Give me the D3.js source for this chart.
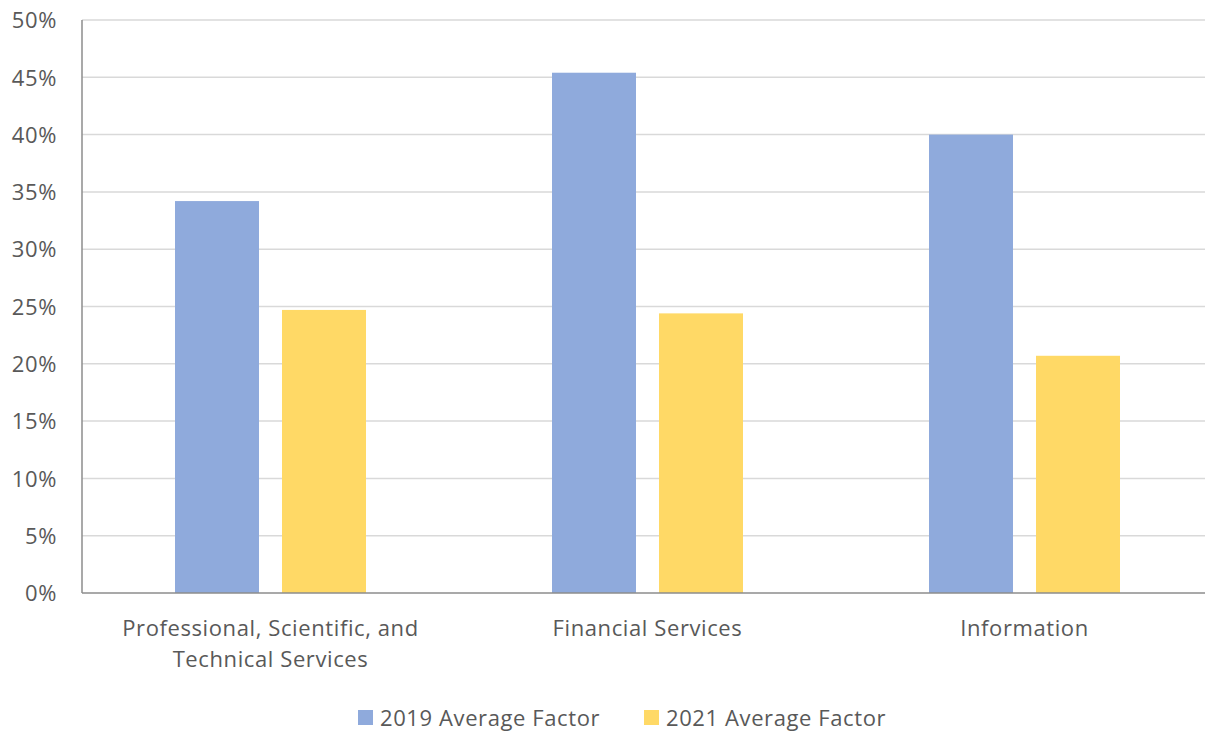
<!DOCTYPE html>
<html>
<head>
<meta charset="utf-8">
<script src="https://cdn.jsdelivr.net/npm/d3@7"></script>
<style>
  html, body { margin: 0; padding: 0; background: #fff; }
  svg { display: block; }
  text { font-family: "Open Sans", Lato, sans-serif; fill: #595959; letter-spacing: 0.6px; }
</style>
</head>
<body>
<svg id="chart" width="1205" height="731"></svg>
<script>
// Industry averages (percent)
const categories = [
  ["Professional, Scientific, and", "Technical Services"],
  ["Financial Services"],
  ["Information"]
];
const seriesNames = ["2019 Average Factor", "2021 Average Factor"];
const values2019 = [34.2, 45.4, 40.0];
const values2021 = [24.7, 24.4, 20.7];
const yTicks = [0, 5, 10, 15, 20, 25, 30, 35, 40, 45, 50];
const colors = ["#8FAADC", "#FFD966"];

const svg = d3.select("#chart");
const margin = { left: 82, right: -8, top: 20, bottom: 138 };
const W = 1205, H = 731;
const fontSize = "22px";

const catKeys = categories.map((c, i) => i);
const x0 = d3.scaleBand().domain(catKeys).range([margin.left, W - margin.right]).padding(0);
const x1 = d3.scaleBand().domain([0, 1])
  .range([93, x0.bandwidth() - 93]).paddingInner(0.215).paddingOuter(0);
const y = d3.scaleLinear().domain([0, 50]).range([H - margin.bottom, margin.top]);

// gridlines
svg.append("g")
  .selectAll("line")
  .data(yTicks.filter(t => t > 0))
  .join("line")
  .attr("x1", margin.left).attr("x2", W)
  .attr("y1", d => y(d)).attr("y2", d => y(d))
  .attr("stroke", "#D9D9D9").attr("stroke-width", 1.5);

// y axis labels
const yAxis = d3.axisLeft(y).tickValues(yTicks).tickFormat(d => d + "%").tickSize(0).tickPadding(0);
const yg = svg.append("g").attr("transform", `translate(57,0)`).call(yAxis);
yg.select(".domain").remove();
yg.selectAll("text").style("font-size", fontSize).attr("fill", "#595959").attr("dy", "0.35em")
  .style("font-family", "'Open Sans', Lato, sans-serif");

// bars
const rows = catKeys.map(i => [values2019[i], values2021[i]]);
const groups = svg.append("g").selectAll("g")
  .data(rows).join("g")
  .attr("transform", (d, i) => `translate(${x0(i)},0)`);
groups.selectAll("rect")
  .data(d => d.map((v, s) => ({ v, s })))
  .join("rect")
  .attr("x", d => x1(d.s))
  .attr("width", x1.bandwidth())
  .attr("y", d => y(d.v))
  .attr("height", d => y(0) - y(d.v))
  .attr("fill", d => colors[d.s]);

// axis lines
svg.append("line")
  .attr("x1", margin.left).attr("x2", margin.left)
  .attr("y1", y(50)).attr("y2", y(0))
  .attr("stroke", "#8C8C8C").attr("stroke-width", 1.5);
svg.append("line")
  .attr("x1", margin.left).attr("x2", W)
  .attr("y1", y(0)).attr("y2", y(0))
  .attr("stroke", "#8C8C8C").attr("stroke-width", 1.5);

// category labels
const catLabels = svg.append("g").selectAll("text")
  .data(categories).join("text")
  .attr("x", (d, i) => x0(i) + x0.bandwidth() / 2)
  .attr("y", 636)
  .attr("text-anchor", "middle")
  .style("font-size", fontSize);
catLabels.selectAll("tspan")
  .data(d => d).join("tspan")
  .attr("x", function () { return d3.select(this.parentNode).attr("x"); })
  .attr("dy", (d, i) => i === 0 ? 0 : 31)
  .text(d => d);

// legend
const legendItems = [
  { name: seriesNames[0], color: colors[0], x: 358 },
  { name: seriesNames[1], color: colors[1], x: 644 }
];
const lg = svg.append("g").selectAll("g").data(legendItems).join("g")
  .attr("transform", d => `translate(${d.x},710)`);
lg.append("rect").attr("width", 15).attr("height", 15).attr("fill", d => d.color);
lg.append("text").attr("x", 22).attr("y", 16)
  .style("font-size", fontSize).text(d => d.name);
</script>
</body>
</html>
